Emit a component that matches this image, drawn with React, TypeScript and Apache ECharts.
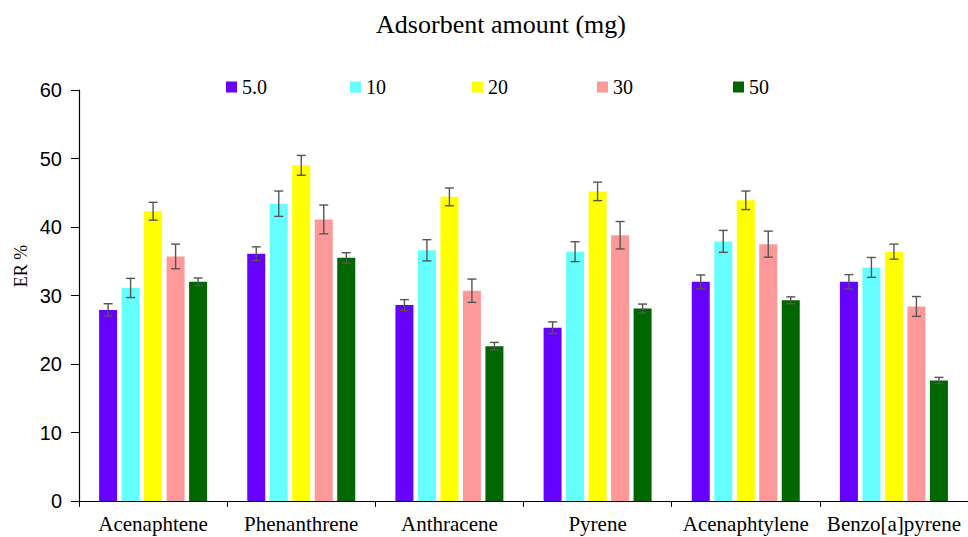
import React, { useEffect, useRef } from "react";
import * as echarts from "echarts";

const categories = ["Acenaphtene", "Phenanthrene", "Anthracene", "Pyrene", "Acenaphtylene", "Benzo[a]pyrene"];
const seriesNames = ["5.0", "10", "20", "30", "50"];
const colors = ["#6600FF", "#66FFFF", "#FFFF00", "#FF9999", "#006600"];

const values5 = [27.9, 36.1, 28.6, 25.3, 32.0, 32.0];
const values10 = [31.1, 43.4, 36.6, 36.4, 37.9, 34.1];
const values20 = [42.3, 49.0, 44.4, 45.2, 43.9, 36.4];
const values30 = [35.7, 41.1, 30.7, 38.8, 37.5, 28.4];
const values50 = [32.0, 35.5, 22.6, 28.1, 29.3, 17.6];

const errors5 = [0.9, 1.0, 0.8, 0.85, 1.0, 1.05];
const errors10 = [1.4, 1.85, 1.55, 1.45, 1.6, 1.45];
const errors20 = [1.3, 1.45, 1.3, 1.35, 1.35, 1.1];
const errors30 = [1.8, 2.1, 1.7, 2.0, 1.9, 1.45];
const errors50 = [0.55, 0.75, 0.55, 0.65, 0.5, 0.45];

const yTicks = [0, 10, 20, 30, 40, 50, 60];

const allValues = [values5, values10, values20, values30, values50];
const allErrors = [errors5, errors10, errors20, errors30, errors50];

const SERIF = "Liberation Serif";
const SANS = "Liberation Sans";
const BAR_W = 18;
const BAR_GAP_PX = 4.5;

export default function App() {
  const ref = useRef<HTMLDivElement>(null);
  useEffect(() => {
    if (!ref.current) return;
    const chart = echarts.init(ref.current, undefined, { renderer: "svg" });
    const legendLefts = [221, 345, 467, 592, 728];
    const barSeries = seriesNames.map((name, i) => ({
      name,
      type: "bar",
      data: allValues[i],
      barWidth: BAR_W,
      barGap: (BAR_GAP_PX / BAR_W) * 100 + "%",
      itemStyle: { color: colors[i] },
    }));
    const errSeries = seriesNames.map((name, i) => ({
      name: name + "-err",
      type: "custom",
      z: 5,
      data: allValues[i].map((v, k) => [k, v, allErrors[i][k]]),
      encode: { x: 0, y: 1 },
      renderItem: (params: any, api: any) => {
        const idx = api.value(0);
        const v = api.value(1);
        const e = api.value(2);
        const offset = (i - 2) * (BAR_W + BAR_GAP_PX);
        const top = api.coord([idx, v + e]);
        const bot = api.coord([idx, v - e]);
        const x = top[0] + offset;
        const cap = 4.5;
        const style = { stroke: "#555555", lineWidth: 1.4 };
        return {
          type: "group",
          children: [
            { type: "line", shape: { x1: x, y1: top[1], x2: x, y2: bot[1] }, style },
            { type: "line", shape: { x1: x - cap, y1: top[1], x2: x + cap, y2: top[1] }, style },
            { type: "line", shape: { x1: x - cap, y1: bot[1], x2: x + cap, y2: bot[1] }, style },
          ],
        };
      },
    }));
    chart.setOption({
      animation: false,
      backgroundColor: "#ffffff",
      textStyle: { fontFamily: SERIF },
      legend: seriesNames.map((name, i) => ({
        data: [name],
        left: legendLefts[i],
        top: 72,
        icon: "rect",
        itemWidth: 11,
        itemHeight: 11,
        itemGap: 0,
        textStyle: { fontFamily: SERIF, fontSize: 20, color: "#000" },
      })),
      grid: { left: 79, right: 0, top: 90, bottom: 36 },
      xAxis: {
        type: "category",
        data: categories,
        axisLine: { lineStyle: { color: "#000", width: 1.2 } },
        axisTick: { show: true, length: 6, lineStyle: { color: "#000" } },
        axisLabel: { fontFamily: SERIF, fontSize: 21, color: "#000", margin: 12, interval: 0 },
      },
      yAxis: {
        type: "value",
        min: 0,
        max: 60,
        interval: 10,
        axisLine: { show: true, lineStyle: { color: "#000", width: 1.2 } },
        axisTick: { show: true, length: 8, lineStyle: { color: "#000" } },
        splitLine: { show: false },
        axisLabel: {
          fontFamily: SANS,
          fontSize: 20,
          color: "#000",
          margin: 17,
          formatter: (v: number) => (yTicks.includes(v) ? String(v) : ""),
        },
      },
      graphic: [
        {
          type: "text",
          x: 501,
          y: 24,
          style: {
            text: "Adsorbent amount (mg)",
            fontFamily: SERIF,
            fontSize: 26,
            fill: "#000",
            textAlign: "center",
            textVerticalAlign: "middle",
          },
        },
        {
          type: "text",
          x: 21,
          y: 266,
          rotation: Math.PI / 2,
          style: {
            text: "ER %",
            fontFamily: SERIF,
            fontSize: 18,
            fill: "#000",
            textAlign: "center",
            textVerticalAlign: "middle",
          },
        },
      ],
      series: [...barSeries, ...errSeries],
    });
    return () => chart.dispose();
  }, []);
  return <div ref={ref} style={{ position: "fixed", left: 0, top: 0, width: 968, height: 537 }} />;
}
